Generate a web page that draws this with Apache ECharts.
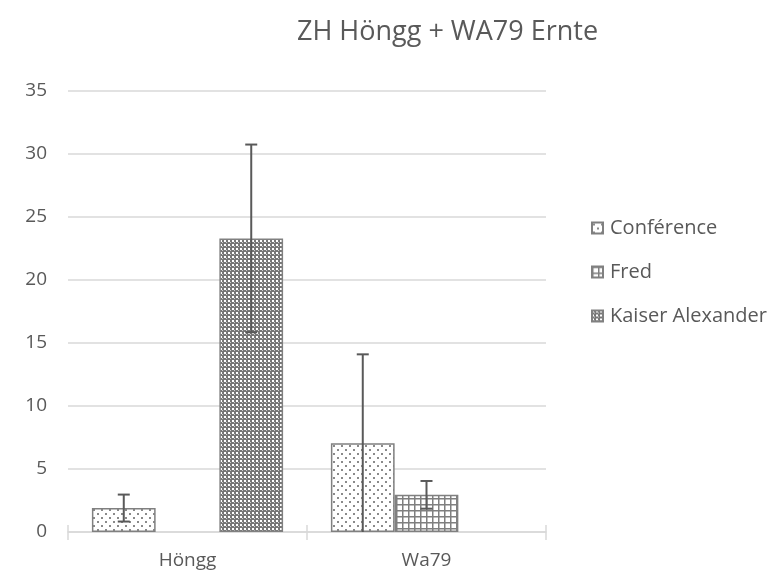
<!DOCTYPE html>
<html><head><meta charset="utf-8">
<script src="https://cdn.jsdelivr.net/npm/echarts@6/dist/echarts.min.js"></script>
<style>html,body{margin:0;padding:0;background:#fff}#c{width:779px;height:577px}</style>
</head><body><div id="c"></div>
<script>
const categories = ['Höngg', 'Wa79'];
const seriesNames = ['Conférence', 'Fred', 'Kaiser Alexander'];
const conference = [1.9, 7.05];
const conferenceErr = [1.07, 7.05];
const fred = [null, 2.95];
const fredErr = [null, 1.1];
const kaiser = [23.3, null];
const kaiserErr = [7.45, null];
const yTicks = [0, 5, 10, 15, 20, 25, 30, 35];

function pat(size, draw) {
  const c = document.createElement('canvas');
  c.width = size; c.height = size;
  const g = c.getContext('2d');
  g.fillStyle = '#fff'; g.fillRect(0, 0, size, size);
  draw(g);
  return { image: c, repeat: 'repeat' };
}
const dotPat = pat(8, g => { g.fillStyle = '#8a8a8a'; g.fillRect(1, 1, 2, 2); g.fillRect(5, 5, 2, 2); });
const gridPat = pat(6, g => { g.fillStyle = '#7f7f7f'; g.fillRect(0, 0, 6, 1.5); g.fillRect(0, 0, 1.5, 6); });
const checkPat = pat(4, g => { g.fillStyle = '#777'; g.fillRect(0, 0, 4, 4); g.fillStyle = '#fff'; g.fillRect(0, 0, 2, 2); g.fillStyle = '#d0d0d0'; g.fillRect(2, 2, 1, 1); });
const pats = [dotPat, gridPat, checkPat];
const vals = [conference, fred, kaiser];
const errs = [conferenceErr, fredErr, kaiserErr];

const chart = echarts.init(document.getElementById('c'));
const font = 'Open Sans';
const series = [];
seriesNames.forEach((n, i) => {
  series.push({
    name: n, type: 'bar', barGap: '0%', barCategoryGap: '20%',
    data: vals[i].map(v => v == null ? '-' : v),
    itemStyle: { color: pats[i], borderColor: '#808080', borderWidth: 1.5 },
    emphasis: { disabled: true }
  });
});
seriesNames.forEach((n, i) => {
  series.push({
    type: 'custom', name: n + ' err', z: 10, silent: true,
    data: vals[i].map((v, k) => v == null ? null : [k, v, errs[i][k]]).filter(d => d),
    encode: { x: 0, y: 1 },
    renderItem: function (params, api) {
      const k = api.value(0), v = api.value(1), e = api.value(2);
      const bw = api.size([1, 0])[0] * 0.8 / 3;
      const cx = api.coord([k, v])[0] + (i - 1) * bw;
      const lo = Math.max(0, v - e);
      const yt = api.coord([k, v + e])[1];
      const yb = api.coord([k, lo])[1];
      const style = { stroke: '#595959', lineWidth: 2 };
      const ch = [{ type: 'line', shape: { x1: cx, y1: yt, x2: cx, y2: yb }, style }];
      ch.push({ type: 'line', shape: { x1: cx - 6, y1: yt, x2: cx + 6, y2: yt }, style });
      if (lo > 0) ch.push({ type: 'line', shape: { x1: cx - 6, y1: yb, x2: cx + 6, y2: yb }, style });
      return { type: 'group', children: ch };
    }
  });
});
chart.setOption({
  animation: false,
  title: { text: 'ZH Höngg + WA79 Ernte', left: 292, top: 14,
    textStyle: { fontFamily: font, fontSize: 27, fontWeight: 'normal', color: '#595959' } },
  legend: { data: seriesNames, orient: 'vertical', left: 586, top: 213, itemGap: 24,
    itemWidth: 11, itemHeight: 11, icon: 'rect',
    textStyle: { fontFamily: font, fontSize: 20, color: '#595959', padding: [0, 0, 0, 2] } },
  grid: { left: 68, right: 233, top: 91, bottom: 45 },
  xAxis: [{ type: 'category', data: categories,
    axisLine: { lineStyle: { color: '#d9d9d9', width: 1.5 } },
    axisTick: { show: true, length: 8, lineStyle: { color: '#d9d9d9', width: 1.5 } },
    axisLabel: { fontFamily: font, fontSize: 19, color: '#595959', margin: 19 } },
    { type: 'category', data: categories, position: 'bottom',
    axisLine: { show: false },
    axisTick: { show: true, inside: true, length: 7, lineStyle: { color: '#d9d9d9', width: 1.5 } },
    axisLabel: { show: false } }],
  yAxis: { type: 'value', min: yTicks[0], max: yTicks[yTicks.length - 1], interval: 5,
    axisLine: { show: false }, axisTick: { show: false },
    splitLine: { lineStyle: { color: '#d9d9d9', width: 1.5 } },
    axisLabel: { fontFamily: font, fontSize: 19, color: '#595959', margin: 21 } },
  series
});
</script></body></html>
